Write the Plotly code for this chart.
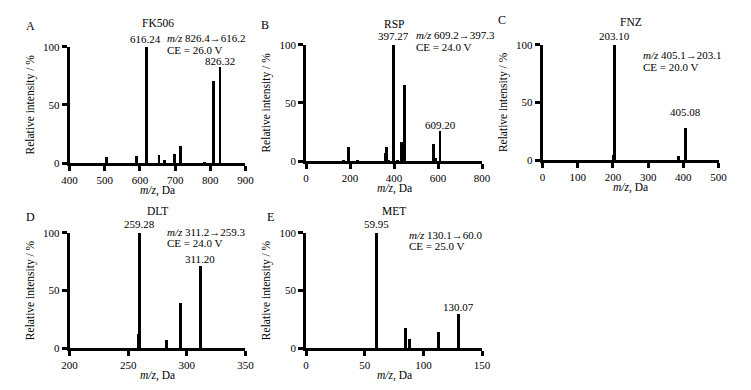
import plotly.graph_objects as go

# ---------------- data ----------------
panel_letters = ["A", "B", "C", "D", "E"]
compound_names = ["FK506", "RSP", "FNZ", "DLT", "MET"]
transitions = ["826.4→616.2", "609.2→397.3", "405.1→203.1", "311.2→259.3", "130.1→60.0"]
collision_energies = ["26.0", "24.0", "20.0", "24.0", "25.0"]

fk506_mz = [505, 588, 616.24, 653, 669, 697, 714, 783, 808, 826.32]
fk506_int = [5, 6, 100, 7.5, 3, 8, 14.5, 1.2, 71, 83]
fk506_labels = [616.24, 826.32]

rsp_mz = [169, 195, 236, 362, 365, 375, 397.27, 416, 434, 449, 578, 590, 609.20]
rsp_int = [1.5, 12.5, 1.5, 7.5, 12.5, 1.5, 100, 1.2, 16.5, 66, 15, 2.5, 26]
rsp_labels = [397.27, 609.20]

fnz_mz = [199, 203.10, 386, 405.08]
fnz_int = [5, 100, 3.5, 28]
fnz_labels = [203.10, 405.08]

dlt_mz = [258, 259.28, 282, 294, 311.20]
dlt_int = [12.5, 100, 7.5, 39, 71]
dlt_labels = [259.28, 311.20]

met_mz = [59.95, 84.8, 88.2, 112.8, 130.07]
met_int = [100, 17.5, 8.5, 14, 30]
met_labels = [59.95, 130.07]

x_ranges = [[400, 900], [0, 800], [0, 500], [200, 350], [0, 150]]
x_dticks = [100, 200, 100, 50, 50]

series = [
    (fk506_mz, fk506_int, fk506_labels),
    (rsp_mz, rsp_int, rsp_labels),
    (fnz_mz, fnz_int, fnz_labels),
    (dlt_mz, dlt_int, dlt_labels),
    (met_mz, met_int, met_labels),
]

# ---------------- layout (pixels) ----------------
W, H = 751, 390
# (x_left, x_right, y_bottom, y_top) in pixels
boxes = [
    (63, 243, 162, 42),
    (305, 485, 160, 40),
    (547, 727, 159, 40),
    (63, 243, 353, 234),
    (305, 485, 353, 234),
]
letter_pos = [(23, 21), (263, 20), (505, 14), (23, 218), (269, 218)]
title_y = [18, 19, 16, 212, 212]
info_pos = [(162, 33), (416, 30), (649, 51), (162, 233), (409, 236)]
LINE_GAP = 12
# label pixel shift above the bar top
label_shift = [[1, -2], [2, -1], [2, 9], [2, 0], [2, 0]]

FONT = "Liberation Serif, Times New Roman, serif"
TICK_SIZE = 11
TEXT_SIZE = 11

def px_x(p):
    return p / W

def px_y(p):
    return 1 - p / H

fig = go.Figure()
annotations = []

def txt(text, x, y, size=TEXT_SIZE, xanchor="center"):
    return dict(text=text, x=px_x(x), y=px_y(y), xref="paper", yref="paper",
                xanchor=xanchor, yanchor="middle", showarrow=False, borderpad=0,
                font=dict(family=FONT, size=size, color="black"))

for i, (mz, inten, labs) in enumerate(series):
    xl, xr, yb, yt = boxes[i]
    xa = "x" if i == 0 else f"x{i+1}"
    ya = "y" if i == 0 else f"y{i+1}"
    units_per_px = (x_ranges[i][1] - x_ranges[i][0]) / (xr - xl)
    fig.add_trace(go.Bar(
        x=mz, y=inten, xaxis=xa, yaxis=ya,
        width=[3.0 * units_per_px] * len(mz),
        marker=dict(color="black", line=dict(width=0)),
        showlegend=False, hoverinfo="x+y",
    ))
    sfx = "" if i == 0 else str(i + 1)
    common_axis = dict(
        showline=True, linecolor="black", linewidth=2.6,
        ticks="outside", ticklen=5, tickwidth=2.6, tickcolor="black",
        showgrid=False, zeroline=False,
        tickfont=dict(family=FONT, size=TICK_SIZE, color="black"),
    )
    fig.layout["xaxis" + sfx] = dict(
        common_axis,
        domain=[px_x(xl), px_x(xr)], range=x_ranges[i], dtick=x_dticks[i],
        anchor=ya, fixedrange=True,
    )
    fig.layout["yaxis" + sfx] = dict(
        common_axis,
        domain=[px_y(yb), px_y(yt)], range=[0, 100], tickvals=[0, 50, 100],
        anchor=xa, fixedrange=True,
        title=dict(text="Relative intensity / %", font=dict(family=FONT, size=11.5, color="black"), standoff=7),
    )
    # x-axis title
    annotations.append(txt("<i>m/z</i>, Da", (xl + xr) / 2, yb + 28, size=11.5))
    lx, ly = letter_pos[i]
    annotations.append(txt(panel_letters[i], lx, ly, size=12))
    annotations.append(txt(compound_names[i], (xl + xr) / 2, title_y[i], size=11.5))
    ix, iy = info_pos[i]
    annotations.append(txt(f"<i>m/z</i> {transitions[i]}", ix, iy, xanchor="left"))
    annotations.append(txt(f"CE = {collision_energies[i]} V", ix, iy + LINE_GAP, xanchor="left"))
    for j, lab in enumerate(labs):
        k = mz.index(lab)
        annotations.append(dict(text=f"{lab:.2f}", x=lab, y=inten[k], xref=xa, yref=ya,
                                xanchor="center", yanchor="bottom", yshift=label_shift[i][j],
                                showarrow=False, borderpad=0,
                                font=dict(family=FONT, size=TEXT_SIZE, color="black")))

fig.update_layout(
    width=W, height=H, margin=dict(l=0, r=0, t=0, b=0),
    paper_bgcolor="white", plot_bgcolor="white",
    bargap=0, annotations=annotations,
    font=dict(family=FONT, color="black"),
)

fig.write_html("out.html", config={"displayModeBar": False},
               post_script="document.body.style.margin='0';")
